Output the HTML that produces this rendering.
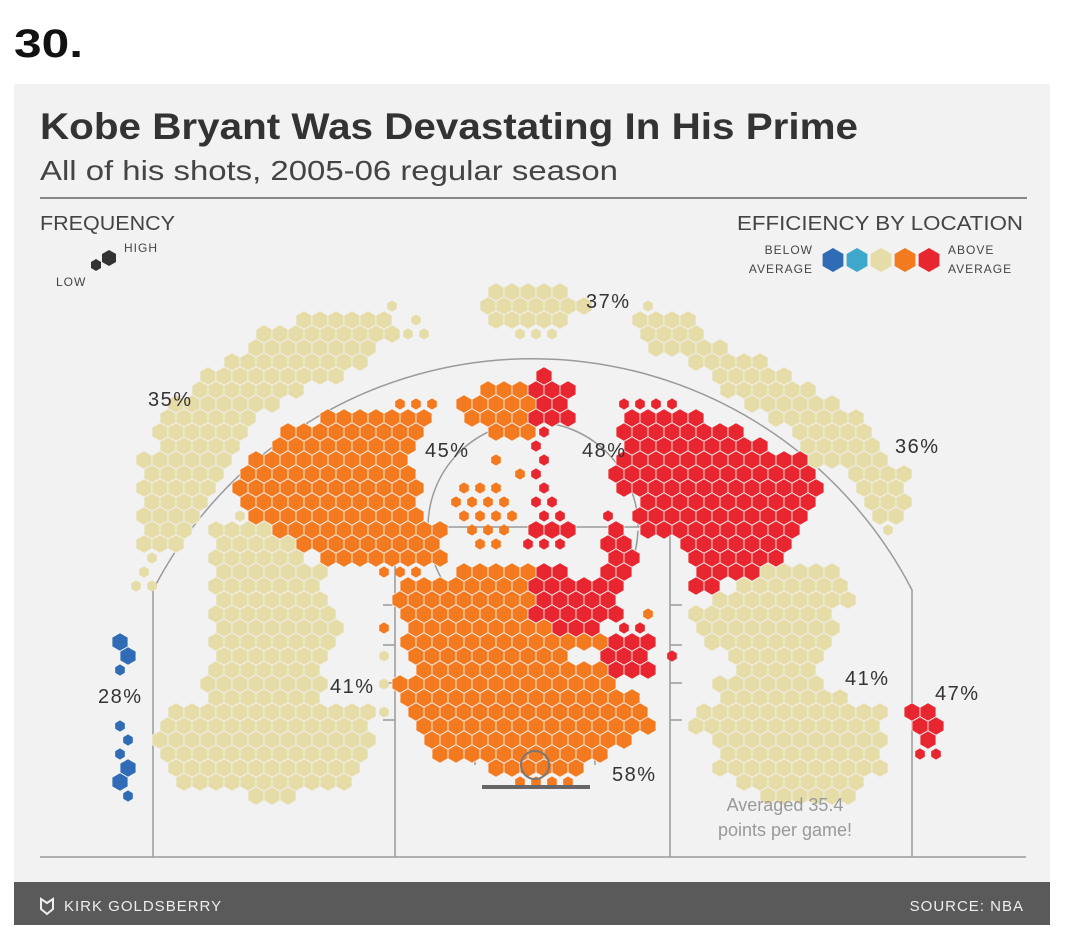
<!DOCTYPE html>
<html><head><meta charset="utf-8">
<style>
body{margin:0;background:#fff;width:1082px;height:932px;overflow:hidden;font-family:"Liberation Sans",sans-serif;}
svg{position:absolute;left:0;top:0}
</style></head>
<body>
<svg id="chart" width="1082" height="932" viewBox="0 0 1082 932" xmlns="http://www.w3.org/2000/svg">
<text x="14" y="57" font-size="40" font-weight="bold" fill="#111" textLength="69" lengthAdjust="spacingAndGlyphs">30.</text>
<rect x="14" y="84" width="1036" height="800" fill="#f2f2f2"/>
<text x="40" y="139" font-size="37" font-weight="bold" fill="#333" textLength="818" lengthAdjust="spacingAndGlyphs">Kobe Bryant Was Devastating In His Prime</text>
<text x="40" y="180" font-size="28" fill="#444" textLength="578" lengthAdjust="spacingAndGlyphs">All of his shots, 2005-06 regular season</text>
<line x1="40" y1="198" x2="1027" y2="198" stroke="#888" stroke-width="2"/>
<g fill="#444">
<text x="40" y="230" font-size="20" textLength="135" lengthAdjust="spacingAndGlyphs">FREQUENCY</text>
<text x="124" y="252" font-size="12" letter-spacing="1">HIGH</text>
<text x="56" y="286" font-size="12" letter-spacing="1">LOW</text>
<polygon points="96,259 101,262 101,268 96,271 91,268 91,262" fill="#333"/>
<polygon points="109,250 116,254 116,262 109,266 102,262 102,254" fill="#333"/>
</g>
<g fill="#444">
<text x="737" y="230" font-size="20" textLength="286" lengthAdjust="spacingAndGlyphs">EFFICIENCY BY LOCATION</text>
<text x="813" y="254" font-size="12" text-anchor="end" letter-spacing="1">BELOW</text>
<text x="813" y="273" font-size="12" text-anchor="end" letter-spacing="1">AVERAGE</text>
<text x="948" y="254" font-size="12" letter-spacing="1">ABOVE</text>
<text x="948" y="273" font-size="12" letter-spacing="1">AVERAGE</text>
<g id="legendHexes"></g>
</g>
<g fill="none" stroke="#9a9a9a" stroke-width="1.5">
<line x1="40" y1="857" x2="1026" y2="857"/>
<path d="M153,857 L153,590 A427,427 0 0 1 912,590 L912,857"/>
<path d="M395,857 L395,527 L670,527 L670,857"/>
<path d="M428,527 A105,105 0 0 1 638,527"/>
<path d="M428,527 A105,105 0 0 0 638,527" stroke-dasharray="20,14"/>
<path d="M475,765 A60,60 0 0 1 595,765"/>
<g>
<line x1="383" y1="605" x2="395" y2="605"/><line x1="383" y1="645" x2="395" y2="645"/><line x1="383" y1="683" x2="395" y2="683"/><line x1="383" y1="720" x2="395" y2="720"/>
<line x1="670" y1="605" x2="682" y2="605"/><line x1="670" y1="645" x2="682" y2="645"/><line x1="670" y1="683" x2="682" y2="683"/><line x1="670" y1="720" x2="682" y2="720"/>
</g>
</g>
<g id="hexes"></g>
<g>
<line x1="482" y1="787" x2="590" y2="787" stroke="#666" stroke-width="4"/>
<circle cx="535" cy="765" r="14" fill="none" stroke="#777" stroke-width="2"/>
</g>
<g id="labels" font-size="20" fill="#333" letter-spacing="1.5"></g>
<g font-size="18" fill="#999" text-anchor="middle">
<text x="785" y="811">Averaged 35.4</text>
<text x="785" y="836">points per game!</text>
</g>
<rect x="14" y="882" width="1036" height="43" fill="#5a5a5a"/>
<path d="M41,899 L47,903 L53,899 L53,909 L47,914 L41,909 Z" fill="none" stroke="#eee" stroke-width="2"/>
<text x="64" y="911" font-size="15" fill="#eee" letter-spacing="1">KIRK GOLDSBERRY</text>
<text x="1024" y="911" font-size="15" fill="#eee" text-anchor="end" letter-spacing="1">SOURCE: NBA</text>
</svg>
<script>
// runs: [row, colStart, colEnd, code]  T/t tan big/small, O/o orange, R/r red, B/b blue
const hexRuns = [
[0,24,28,'T'],
[1,23,29,'T'],[1,17,17,'t'],[1,33,33,'t'],
[2,12,17,'T'],[2,19,19,'t'],[2,24,28,'T'],[2,33,36,'T'],
[3,9,17,'T'],[3,18,19,'t'],[3,25,27,'t'],[3,33,36,'T'],
[4,9,16,'T'],[4,34,38,'T'],
[5,7,15,'T'],[5,36,40,'T'],
[6,6,14,'T'],[6,27,27,'R'],[6,38,42,'T'],
[7,5,11,'T'],[7,23,25,'O'],[7,26,28,'R'],[7,38,43,'T'],
[8,4,10,'T'],[8,18,20,'o'],[8,22,26,'O'],[8,27,28,'R'],[8,32,35,'r'],[8,40,45,'T'],
[9,3,8,'T'],[9,13,19,'O'],[9,22,25,'O'],[9,26,28,'R'],[9,32,36,'R'],[9,41,46,'T'],
[10,3,8,'T'],[10,11,19,'O'],[10,24,26,'O'],[10,27,27,'r'],[10,32,39,'R'],[10,43,47,'T'],
[11,3,7,'T'],[11,10,18,'O'],[11,26,26,'r'],[11,32,40,'R'],[11,43,47,'T'],
[12,2,7,'T'],[12,9,18,'O'],[12,24,24,'o'],[12,27,27,'r'],[12,32,43,'R'],[12,44,48,'T'],
[13,2,6,'T'],[13,8,18,'O'],[13,25,25,'o'],[13,26,26,'r'],[13,31,43,'R'],[13,46,49,'T'],
[14,2,6,'T'],[14,8,19,'O'],[14,22,24,'o'],[14,27,27,'r'],[14,32,44,'R'],[14,47,49,'T'],
[15,2,5,'T'],[15,8,18,'O'],[15,21,24,'o'],[15,26,27,'r'],[15,33,43,'R'],[15,47,49,'T'],
[16,2,5,'T'],[16,8,8,'t'],[16,9,19,'O'],[16,22,25,'o'],[16,27,28,'r'],[16,31,31,'r'],[16,33,43,'R'],[16,48,49,'T'],
[17,2,4,'T'],[17,6,9,'T'],[17,10,20,'O'],[17,22,24,'o'],[17,26,28,'R'],[17,31,31,'R'],[17,33,42,'R'],[17,48,48,'t'],
[18,2,4,'T'],[18,7,11,'T'],[18,12,20,'O'],[18,23,24,'o'],[18,26,28,'r'],[18,31,32,'R'],[18,36,42,'R'],
[19,2,2,'t'],[19,6,11,'T'],[19,13,20,'O'],[19,31,32,'R'],[19,36,41,'R'],
[20,2,2,'t'],[20,7,13,'T'],[20,17,19,'o'],[20,22,26,'O'],[20,27,28,'R'],[20,31,32,'R'],[20,37,40,'R'],[20,41,45,'T'],
[21,1,2,'t'],[21,6,12,'T'],[21,18,25,'O'],[21,26,31,'R'],[21,36,37,'R'],[21,39,45,'T'],
[22,7,13,'T'],[22,18,26,'O'],[22,27,31,'R'],[22,38,46,'T'],
[23,6,13,'T'],[23,18,25,'O'],[23,26,31,'R'],[23,33,33,'o'],[23,36,44,'T'],
[24,7,14,'T'],[24,17,17,'o'],[24,19,27,'O'],[24,28,30,'R'],[24,32,33,'r'],[24,37,45,'T'],
[25,0,0,'B'],[25,6,13,'T'],[25,18,30,'O'],[25,31,33,'R'],[25,37,44,'T'],
[26,1,1,'B'],[26,7,13,'T'],[26,17,17,'t'],[26,19,28,'O'],[26,31,33,'R'],[26,35,35,'r'],[26,39,44,'T'],
[27,0,0,'b'],[27,6,12,'T'],[27,19,30,'O'],[27,31,33,'R'],[27,39,43,'T'],
[28,6,13,'T'],[28,17,17,'t'],[28,18,31,'O'],[28,38,44,'T'],
[29,6,12,'T'],[29,18,32,'O'],[29,38,45,'T'],
[30,4,16,'T'],[30,17,17,'t'],[30,19,33,'O'],[30,37,48,'T'],[30,50,51,'R'],
[31,0,0,'b'],[31,3,15,'T'],[31,19,33,'O'],[31,36,47,'T'],[31,50,51,'R'],
[32,1,1,'b'],[32,3,16,'T'],[32,20,32,'O'],[32,38,48,'T'],[32,51,51,'R'],
[33,0,0,'b'],[33,3,15,'T'],[33,20,30,'O'],[33,38,47,'T'],[33,50,51,'r'],
[34,1,1,'B'],[34,4,15,'T'],[34,24,29,'O'],[34,38,48,'T'],
[35,0,0,'B'],[35,4,14,'T'],[35,25,28,'o'],[35,39,46,'T'],
[36,1,1,'b'],[36,9,11,'T'],[36,41,46,'T']
];
const labelText = ['37%','35%','45%','48%','36%','28%','41%','41%','47%','58%'];
const labelPos = [[586,308],[148,406],[425,457],[582,457],[895,453],[98,703],[330,693],[845,685],[935,700],[612,781]];
const legendColors = ['#2f6cb5','#3ea8cc','#e6dca8','#f47a20','#e8262f'];

const colors = {T:'#e6dca8',t:'#e6dca8',O:'#f47a20',o:'#f47a20',R:'#e8262f',r:'#e8262f',B:'#2f6cb5',b:'#2f6cb5'};
const NS='http://www.w3.org/2000/svg';
function xOf(c,r){return 112+16*c+(r%2)*8;}
function yOf(r){return 292+14*r;}
function hexPts(cx,cy,R){let p=[];for(let k=0;k<6;k++){const a=Math.PI/180*(60*k-90);p.push((cx+R*Math.cos(a)).toFixed(1)+','+(cy+R*Math.sin(a)).toFixed(1));}return p.join(' ');}
const g=document.getElementById('hexes');
hexRuns.forEach(run=>{
  const [r,c0,c1,code]=run;
  for(let c=c0;c<=c1;c++){
    const big=code===code.toUpperCase();
    const h=document.createElementNS(NS,'polygon');
    h.setAttribute('points',hexPts(xOf(c,r),yOf(r),big?9.2:5.6));
    h.setAttribute('fill',colors[code]);
    h.setAttribute('stroke',big?'#f2f2f2':'none');
    h.setAttribute('stroke-width','0.8');
    
    
    g.appendChild(h);
  }
});
const lg=document.getElementById('legendHexes');
legendColors.forEach((col,i)=>{
  const h=document.createElementNS(NS,'polygon');
  h.setAttribute('points',hexPts(833+i*24,260,12));
  h.setAttribute('fill',col);
  
  
  lg.appendChild(h);
});
const L=document.getElementById('labels');
labelText.forEach((t,i)=>{
  const e=document.createElementNS(NS,'text');
  e.setAttribute('x',labelPos[i][0]);e.setAttribute('y',labelPos[i][1]);
  e.textContent=t;
  
  
  L.appendChild(e);
});
</script>
</body></html>
